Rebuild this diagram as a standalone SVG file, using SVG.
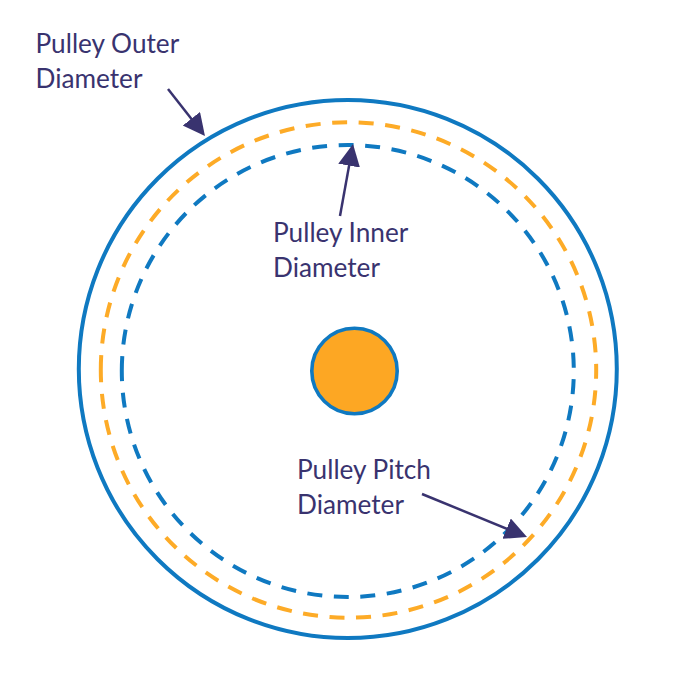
<svg xmlns="http://www.w3.org/2000/svg" width="700" height="700" viewBox="0 0 700 700">
<style>
text{font-family:"Lato","Open Sans",sans-serif;font-size:26.2px;fill:#39336f}
.dash{fill:none;stroke-width:4}
.leader{stroke:#39336f;stroke-width:2.5;fill:none;marker-end:url(#arrow)}
</style>
<defs>
<marker id="arrow" markerUnits="userSpaceOnUse" markerWidth="24" markerHeight="24" refX="18" refY="11" orient="auto">
<path d="M0 0L22 11L0 22Z" fill="#39336f"/>
</marker>
</defs>
<rect width="700" height="700" fill="#fff"/>
<g id="outer-circle"><circle cx="347.800" cy="369" r="269" fill="none" stroke="#0f79c1" stroke-width="4"/></g>
<g id="pitch-circle"><path class="dash" d="M100.800 370A247.700 247.700 0 1 1 596.200 370A247.700 247.700 0 1 1 100.800 370" stroke="#fdab27" stroke-dasharray="15 11.610"/></g>
<g id="inner-circle"><path class="dash" d="M121.800 371A226 226 0 1 1 573.800 371A226 226 0 1 1 121.800 371" stroke="#0f79c1" stroke-dasharray="15 11.590"/></g>
<g id="hub"><circle cx="354.500" cy="371" r="42.700" fill="#fda723" stroke="#0f79c1" stroke-width="3.600"/></g>
<g id="connectors">
<line class="leader" x1="168" y1="89" x2="202.500" y2="132.900"/>
<line class="leader" x1="340" y1="216" x2="352.300" y2="147.900"/>
<line class="leader" x1="422" y1="494" x2="523.300" y2="535.500"/>
</g>
<g id="label-outer"><text x="35.500" y="52.500">Pulley Outer</text><text x="35.500" y="87.500">Diameter</text></g>
<g id="label-inner"><text x="273" y="241.500">Pulley Inner</text><text x="273" y="276.500">Diameter</text></g>
<g id="label-pitch"><text x="297" y="478.500">Pulley Pitch</text><text x="297" y="513.500">Diameter</text></g>
</svg>
